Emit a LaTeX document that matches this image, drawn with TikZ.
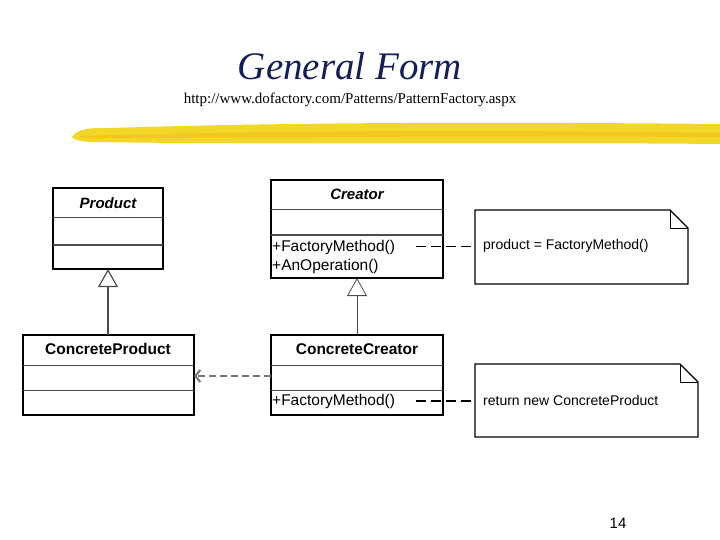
\documentclass[tikz,border=0pt]{standalone}
\usepackage{fontspec}
\setmainfont{Liberation Serif}
\newfontfamily\sansf{Liberation Sans}
\usetikzlibrary{arrows.meta}
\definecolor{titleblue}{RGB}{20,30,90}
\definecolor{brush}{RGB}{240,215,40}
\begin{document}
\begin{tikzpicture}[x=1pt,y=-1pt,
  box/.style={draw=black,line width=1.2pt},
  sep/.style={draw=black!70,line width=1pt},
  lbl/.style={font=\sansf\fontsize{15.5}{17}\selectfont,inner sep=0pt},
  blbl/.style={font=\sansf\bfseries\fontsize{15.5}{17}\selectfont,inner sep=0pt},
  nlbl/.style={font=\sansf\fontsize{14}{16}\selectfont,inner sep=0pt},
  inh/.style={draw=black!70,line width=1.2pt,-{Triangle[open,length=18pt,width=20pt]}},
  dep/.style={draw=black!55,line width=2pt,dash pattern=on 7pt off 4pt,-{Straight Barb[length=5pt,width=12pt]}},
  notel/.style={draw=black,line width=1pt,dash pattern=on 10pt off 5pt},
  note/.style={draw=black,line width=1.2pt}]
\useasboundingbox (0,0) rectangle (720,540);
% title
\node[font=\fontsize{39}{44}\selectfont\itshape,text=titleblue] (title) at (350,66) {General Form};
\node[font=\fontsize{15}{17}\selectfont] (url) at (350,100) {http://www.dofactory.com/Patterns/PatternFactory.aspx};
% brush stroke
\fill[brush] (72,137) .. controls (78,128) and (90,128) .. (110,128) .. controls (300,122) and (500,122) .. (720,124) -- (720,144) .. controls (500,142) and (300,145) .. (90,142) .. controls (80,141) and (74,140) .. cycle;
\fill[brush!80!orange] (80,136) .. controls (300,130) and (500,130) .. (720,133) -- (720,137) .. controls (500,136) and (300,137) .. (80,138) -- cycle;
% Product
\draw[box] (53,188) rectangle (163,269);
\draw[sep] (53,218) -- (163,218);
\draw[sep,line width=1.6pt] (53,245) -- (163,245);
\node[blbl,font=\sansf\bfseries\itshape\fontsize{15}{17}\selectfont] (prod) at (108,203) {Product};
\coordinate (prodB) at (108,269);
% Creator
\draw[box] (271,180) rectangle (443,278);
\draw[sep] (271,210) -- (443,210);
\draw[sep,line width=1.4pt] (271,235) -- (443,235);
\node[blbl,font=\sansf\bfseries\itshape\fontsize{15}{17}\selectfont] (creator) at (357,194) {Creator};
\node[lbl,anchor=west] (fm1) at (272,247) {+FactoryMethod()};
\node[lbl,anchor=west] (anop) at (272,266) {+AnOperation()};
\coordinate (creB) at (357,278);
% ConcreteProduct
\draw[box] (23,335) rectangle (194,415);
\draw[sep] (23,365) -- (194,365);
\draw[sep] (23,390) -- (194,390);
\node[blbl] (cp) at (108,349) {ConcreteProduct};
\coordinate (cpT) at (108,335);
\coordinate (cpR) at (194,376);
% ConcreteCreator
\draw[box] (271,335) rectangle (443,415);
\draw[sep] (271,365) -- (443,365);
\draw[sep] (271,390) -- (443,390);
\node[blbl] (cc) at (357,349) {ConcreteCreator};
\node[lbl,anchor=west] (fm2) at (272,401) {+FactoryMethod()};
\coordinate (ccT) at (357,335);
\coordinate (ccL) at (271,376);
% Notes
\draw[note] (475,210) -- (670,210) -- (688,228) -- (688,284) -- (475,284) -- cycle;
\draw[line width=0.8pt] (670,210) -- (670,228) -- (688,228);
\node[nlbl,anchor=west] (n1) at (483,246) {product = FactoryMethod()};
\draw[note] (475,364) -- (680,364) -- (698,382) -- (698,437) -- (475,437) -- cycle;
\draw[line width=0.8pt] (680,364) -- (680,382) -- (698,382);
\node[nlbl,anchor=west] (n2) at (483,400) {return new ConcreteProduct};
\coordinate (n1L) at (475,246);
\coordinate (n2L) at (475,401);
\coordinate (fm1E) at (416,246);
\coordinate (fm2E) at (416,401);
% connectors
\draw[inh] (cpT) -- (prodB);
\draw[inh,line width=0.8pt] (ccT) -- (creB);
\draw[dep] (ccL) -- (cpR);
\draw[notel] (fm1E) -- (n1L);
\draw[notel,line width=1.6pt] (fm2E) -- (n2L);
% page number
\node[font=\sansf\fontsize{15}{17}\selectfont] (page) at (618,523) {14};
\end{tikzpicture}
\end{document}
